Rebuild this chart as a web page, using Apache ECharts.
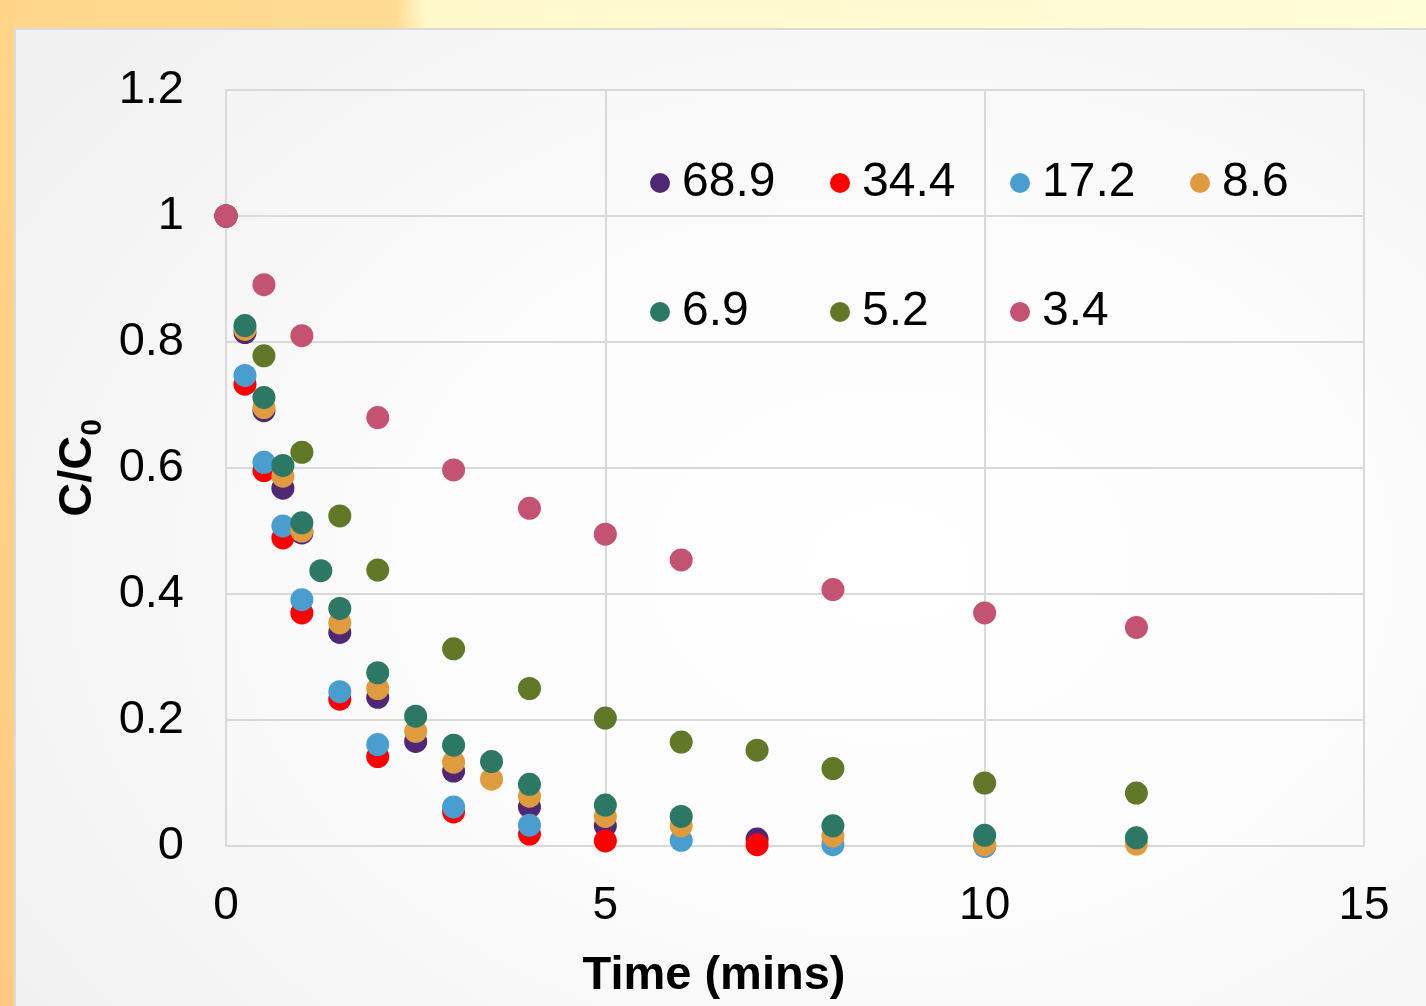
<!DOCTYPE html>
<html>
<head>
<meta charset="utf-8">
<script src="https://cdn.jsdelivr.net/npm/echarts@6/dist/echarts.min.js"></script>
<style>
  html, body { margin: 0; padding: 0; width: 1426px; height: 1006px; overflow: hidden; }
  body { position: relative; background: linear-gradient(to right, #ffd68b 0px, #ffdb91 395px, #fff8cb 425px, #fffcd8 1426px); }
  #edge { position: absolute; left: 0; top: 0; width: 14px; height: 1006px; background: linear-gradient(to bottom, #ffd58a, #ffc983); }
  #panel { position: absolute; left: 14px; top: 28px; width: 1412px; height: 978px; box-sizing: border-box;
           border-top: 2px solid #dadada; border-left: 2px solid #dadada;
           background: radial-gradient(ellipse 75% 80% at 62% 55%, #ffffff 0%, #fcfcfc 45%, #f1f1f1 100%); }
  #chart { position: absolute; left: 0; top: 0; width: 1426px; height: 1006px; }
</style>
</head>
<body>
<div id="edge"></div>
<div id="panel"></div>
<div id="chart"></div>
<script>
// Series labels and marker colours
const seriesNames = ['68.9', '34.4', '17.2', '8.6', '6.9', '5.2', '3.4'];
const seriesColors = ['#4f2775', '#ff0000', '#4a9ecf', '#df9c3e', '#2c7864', '#607828', '#c45272'];

// Sampling times (mins) and C/C0 for each series
const t689 = [0, 0.25, 0.5, 0.75, 1, 1.5, 2, 2.5, 3, 4, 5, 7, 10];
const v689 = [1, 0.815, 0.691, 0.568, 0.497, 0.339, 0.236, 0.166, 0.119, 0.062, 0.032, 0.011, 0.0];

const t344 = [0, 0.25, 0.5, 0.75, 1, 1.5, 2, 3, 4, 5, 7];
const v344 = [1, 0.733, 0.596, 0.489, 0.370, 0.233, 0.142, 0.054, 0.019, 0.008, 0.002];

const t172 = [0, 0.25, 0.5, 0.75, 1, 1.5, 2, 3, 4, 6, 8, 10];
const v172 = [1, 0.747, 0.609, 0.508, 0.391, 0.245, 0.161, 0.062, 0.033, 0.009, 0.002, 0.0];

const t86 = [0, 0.25, 0.5, 0.75, 1, 1.5, 2, 2.5, 3, 3.5, 4, 5, 6, 8, 10, 12];
const v86 = [1, 0.82, 0.696, 0.587, 0.500, 0.354, 0.250, 0.182, 0.133, 0.106, 0.079, 0.047, 0.032, 0.016, 0.002, 0.003];

const t69 = [0, 0.25, 0.5, 0.75, 1, 1.25, 1.5, 2, 2.5, 3, 3.5, 4, 5, 6, 8, 10, 12];
const v69 = [1, 0.826, 0.712, 0.604, 0.513, 0.437, 0.377, 0.275, 0.206, 0.160, 0.134, 0.098, 0.065, 0.047, 0.032, 0.017, 0.013];

const t52 = [0, 0.5, 1, 1.5, 2, 3, 4, 5, 6, 7, 8, 10, 12];
const v52 = [1, 0.778, 0.625, 0.524, 0.438, 0.313, 0.250, 0.203, 0.165, 0.152, 0.123, 0.100, 0.084];

const t34 = [0, 0.5, 1, 2, 3, 4, 5, 6, 8, 10, 12];
const v34 = [1, 0.891, 0.810, 0.680, 0.597, 0.536, 0.495, 0.454, 0.407, 0.370, 0.347];

// Axis ticks
const xTicks = { min: 0, max: 15, interval: 5 };
const yTicks = { min: 0, max: 1.2, interval: 0.2 };

const times = [t689, t344, t172, t86, t69, t52, t34];
const values = [v689, v344, v172, v86, v69, v52, v34];

const FONT = '"Liberation Sans", Arial, sans-serif';
const gridColor = '#d9d9d9';

const series = seriesNames.map((name, i) => ({
  name: name,
  type: 'scatter',
  symbol: 'circle',
  symbolSize: 23,
  itemStyle: { color: seriesColors[i], opacity: 1 },
  emphasis: { disabled: true },
  data: times[i].map((t, k) => [t, values[i][k]])
}));

const legendBase = {
  orient: 'horizontal',
  padding: 0,
  icon: 'circle',
  itemWidth: 20,
  itemHeight: 24,
  symbolKeepAspect: false,
  itemGap: 18,
  selectedMode: false,
  textStyle: { fontFamily: FONT, fontSize: 48, color: '#000', width: 130, lineHeight: 56, padding: [0, 0, 0, 7] }
};

const chart = echarts.init(document.getElementById('chart'), null, { renderer: 'canvas' });
chart.setOption({
  backgroundColor: 'transparent',
  animation: false,
  textStyle: { fontFamily: FONT },
  grid: { left: 226, top: 90, right: 62, bottom: 158, containLabel: false },
  legend: [
    Object.assign({}, legendBase, { data: seriesNames.slice(0, 4), left: 650, top: 155 }),
    Object.assign({}, legendBase, { data: seriesNames.slice(4), left: 650, top: 284 })
  ],
  xAxis: {
    type: 'value',
    min: xTicks.min, max: xTicks.max, interval: xTicks.interval,
    axisLine: { show: true, lineStyle: { color: gridColor, width: 2 } },
    axisTick: { show: false },
    splitLine: { show: true, lineStyle: { color: gridColor, width: 2 } },
    axisLabel: { fontSize: 46, color: '#000', fontFamily: FONT, margin: 37, lineHeight: 46 },
    name: 'Time (mins)',
    nameLocation: 'middle',
    nameGap: 105,
    nameTextStyle: { fontSize: 47, fontWeight: 'bold', color: '#000', fontFamily: FONT, lineHeight: 50, padding: [0, 162, 0, 0] }
  },
  yAxis: {
    type: 'value',
    min: yTicks.min, max: yTicks.max, interval: yTicks.interval,
    axisLine: { show: true, lineStyle: { color: gridColor, width: 2 } },
    axisTick: { show: false },
    splitLine: { show: true, lineStyle: { color: gridColor, width: 2 } },
    axisLabel: { fontSize: 47, color: '#000', fontFamily: FONT, margin: 42 },
    name: '{a|C/C}{b|0}',
    nameLocation: 'middle',
    nameGap: 112,
    nameRotate: 90,
    nameTextStyle: {
      rich: {
        a: { fontSize: 47, fontWeight: 'bold', color: '#000', fontFamily: FONT, lineHeight: 60, verticalAlign: 'middle' },
        b: { fontSize: 30, fontWeight: 'bold', color: '#000', fontFamily: FONT, lineHeight: 60, verticalAlign: 'bottom' }
      }
    }
  },
  series: series
});
</script>
</body>
</html>
